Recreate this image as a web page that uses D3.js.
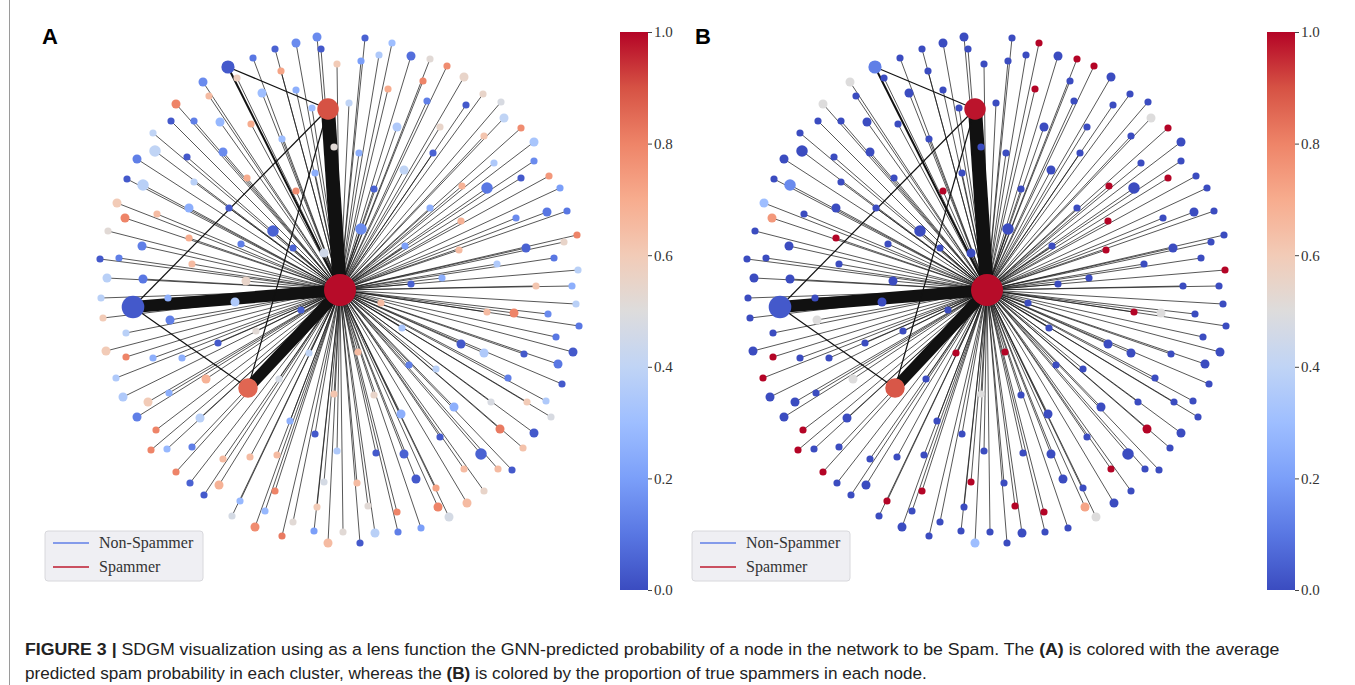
<!DOCTYPE html>
<html>
<head>
<meta charset="utf-8">
<script src="https://cdn.jsdelivr.net/npm/d3@7/dist/d3.min.js"></script>
<style>
  html, body { margin:0; padding:0; background:#fff; }
  svg { display:block; }
</style>
</head>
<body>
<svg id="fig" width="1355" height="685"></svg>
<script>
// ---- data ----
// leaf clusters: layout position relative to the central cluster (layout units),
// cluster size, mean predicted spam prob (A) and share of true spammers (B)
const leafX = [
  -23,-19,-44,-65,-87,-3,-59,-103,-137,-44,-78,-131,-164,-28,-169,-146,-120,-89,-187,-185,
  -6,-58,-203,-153,-117,-25,-213,-197,-146,-93,-44,-223,-183,-151,-111,-215,-67,-232,-151,-198,
  -99,-47,-16,-240,-221,-148,-233,-197,-94,
  25,52,21,39,71,90,107,83,48,124,143,87,9,126,161,164,100,57,181,144,
  194,93,19,194,154,64,209,181,122,147,34,220,90,207,227,176,121,21,237,224,
  186,65,119,214,157,238,102,71,196,232,
  -239,-172,-105,-39,-237,-170,-214,-84,-234,-122,-214,-187,-158,-31,-224,-134,-61,-217,-171,-192,
  -6,-203,-140,-50,-184,-25,-189,-173,-148,-3,-117,-90,-63,-164,-150,-121,-16,-136,-65,-100,
  -23,-108,-75,-47,-85,-26,-58,-12,3,
  236,41,147,174,208,239,62,216,121,144,184,233,18,69,218,96,168,222,34,151,
  187,206,114,211,61,160,194,100,36,64,141,183,124,158,172,76,96,144,17,98,
  127,28,57,109,35,58,81,20
];
const leafY = [
  -253,-241,-247,-241,-232,-226,-219,-212,-208,-200,-197,-194,-186,-182,-169,-169,-168,-166,-157,-139,
  -143,-151,-131,-133,-138,-117,-111,-105,-108,-112,-99,-87,-76,-82,-82,-72,-59,-59,-52,-44,
  -46,-42,-37,-31,-32,-26,-12,-11,-9,
  -252,-247,-229,-235,-234,-231,-224,-209,-201,-213,-196,-189,-187,-185,-188,-172,-163,-163,-162,-154,
  -148,-137,-137,-129,-127,-120,-114,-112,-104,-102,-101,-102,-82,-78,-79,-72,-69,-61,-55,-48,
  -42,-44,-40,-32,-26,-20,-12,-6,-4,-4,
  8,8,12,20,28,30,43,41,61,53,67,68,68,63,88,89,89,107,103,112,
  104,127,128,131,140,144,160,159,157,161,169,167,165,182,193,195,192,205,201,211,
  217,226,221,232,237,241,246,253,242,
  14,13,22,23,24,36,38,47,54,63,64,62,62,75,74,79,88,94,105,112,
  112,111,117,127,124,139,143,147,163,164,164,158,179,179,180,189,198,201,193,217,
  213,216,222,227,243,242,238,253
];
const leafSize = [
  8,5,8,5,5,5,5,5,8,5,8,5,8,5,5,5,8,5,5,13,
  5,5,8,5,8,5,5,13,5,5,5,8,5,8,5,8,13,5,5,8,
  5,5,8,5,5,5,8,8,8,
  5,5,5,5,8,5,5,5,5,8,5,5,5,5,5,8,5,8,5,5,
  8,5,5,5,5,8,5,5,5,13,5,5,5,8,5,5,5,13,5,5,
  8,5,5,5,5,5,5,5,5,5,
  5,5,8,5,5,8,5,5,8,5,5,5,5,5,5,8,5,8,5,8,
  5,8,8,5,5,5,5,5,5,5,5,5,5,5,5,8,5,5,5,5,
  5,5,5,5,8,5,5,8,5,
  5,5,5,8,5,5,5,5,8,8,5,8,5,5,8,5,5,5,5,5,
  5,5,8,5,8,8,8,5,5,8,13,5,5,5,5,8,5,5,5,8,
  8,5,5,8,8,5,5,5
];
const spamProbA = [
  0.15,0.03,0.15,0.05,0.10,0.60,0.72,0.58,0.15,0.25,0.30,0.65,0.80,0.30,0.03,0.12,0.28,0.70,0.40,0.40,
  0.52,0.30,0.12,0.03,0.15,0.25,0.03,0.38,0.38,0.70,0.78,0.60,0.65,0.25,0.03,0.80,0.05,0.52,0.70,0.12,
  0.12,0.05,0.45,0.03,0.12,0.65,0.38,0.10,0.55,
  0.05,0.30,0.20,0.35,0.08,0.52,0.78,0.80,0.70,0.55,0.55,0.12,0.40,0.03,0.48,0.40,0.55,0.35,0.78,0.62,
  0.33,0.05,0.25,0.15,0.35,0.40,0.75,0.03,0.68,0.10,0.05,0.20,0.25,0.10,0.10,0.15,0.68,0.15,0.80,0.55,
  0.05,0.20,0.65,0.10,0.35,0.38,0.25,0.05,0.62,0.25,
  0.38,0.25,0.35,0.05,0.60,0.12,0.38,0.52,0.60,0.03,0.80,0.25,0.25,0.40,0.35,0.68,0.47,0.35,0.25,0.60,
  0.62,0.12,0.38,0.25,0.80,0.03,0.80,0.28,0.12,0.35,0.65,0.65,0.65,0.80,0.05,0.68,0.47,0.03,0.80,0.28,
  0.60,0.47,0.28,0.52,0.78,0.20,0.82,0.65,0.52,
  0.38,0.65,0.65,0.80,0.15,0.10,0.33,0.10,0.03,0.35,0.03,0.03,0.65,0.12,0.10,0.38,0.12,0.03,0.55,0.48,
  0.60,0.35,0.25,0.48,0.25,0.82,0.03,0.03,0.03,0.05,0.05,0.63,0.65,0.65,0.03,0.03,0.72,0.55,0.65,0.80,
  0.65,0.52,0.80,0.47,0.38,0.12,0.20,0.03
];
const spamShareB = [
  0,0,0,0,0,0,0,0,0.5,0,0,0,0.5,0,0,0,0,0,0,0,
  0,0,0,0,0,0,0,0.15,0,0,1,0.3,0,0,0,0.75,0,0,1,0,
  0,0,0,0,0,0,0,0,0,
  0,1,0,0,0,1,1,0,1,0,0,0,0,0,0,0.5,0,0,1,0,
  0,0,0,0,0,0,0,1,1,0,0,0,0,0,0,0,1,0,0,0,
  0,0,1,0,0,1,0,0,0,0,
  0,0,0,0,0,0.5,0,0,0,0,1,0,0,1,1,0.5,0,0,0,0,
  0.5,0,0,0,1,0,1,0,0,0,0,0,0,1,0,0,1,0,1,1,
  0,0,0,0,0,0,0,0.3,0,
  0,0,1,0.5,0,0,0,0,0,0,0,0,1,0,0,0,0,0,0,0,
  0,0,0,0,0,1,0,0,0,0,0,0,1,0,0,0,0,0,0,0.72,
  0,1,1,0.5,0,0,0,0
];

// the large clusters (hubs) and the edges between them
const hubNames  = ["center", "red", "blue", "salmon", "top"];
const hubX      = [0, -12, -207, -92, -112];
const hubY      = [0, -181, 17, 98, -223];
const hubSize   = [100, 45, 50, 37, 17];
const hubProbA  = [0.99, 0.90, 0.03, 0.86, 0.03];
const hubShareB = [0.99, 0.98, 0.03, 0.89, 0.12];
const hubEdgeFrom   = ["center", "center", "center", "center", "red", "red", "red", "blue"];
const hubEdgeTo     = ["red", "blue", "salmon", "top", "top", "blue", "salmon", "salmon"];
const hubEdgeWeight = [14, 12, 11, 2, 1.2, 1.2, 1.2, 1.2];

const colorbarTicks = [0, 0.2, 0.4, 0.6, 0.8, 1.0];
const legendLabels = ["Non-Spammer", "Spammer"];
const panelLabels = ["A", "B"];

// matplotlib "coolwarm"
const coolwarmStops = ["#3b4cc0","#5977e3","#7b9ff9","#9ebeff","#c0d4f5","#dddcdc",
                       "#f2cbb7","#f7ac8e","#ee8468","#d65244","#b40426"];

// ---- drawing ----
const svg = d3.select("#fig");
const color = d3.scaleLinear()
  .domain(d3.range(coolwarmStops.length).map(i => i / (coolwarmStops.length - 1)))
  .range(coolwarmStops)
  .interpolate(d3.interpolateRgb);
const radius = d3.scaleSqrt().domain([0, 100]).range([0, 16]);
const edgeWidth = d3.scaleLinear().domain([0, 14]).range([0, 14]);

// page edge on the left
svg.append("line")
  .attr("x1", 9.5).attr("x2", 9.5)
  .attr("y1", 0).attr("y2", 685)
  .attr("stroke", "#9a9a9a")
  .attr("stroke-width", 1);

// gradient for the colour bars
const defs = svg.append("defs");
const grad = defs.append("linearGradient")
  .attr("id", "cw").attr("x1", 0).attr("y1", 1).attr("x2", 0).attr("y2", 0);
d3.range(0, 1.0001, 0.05).forEach(t => {
  grad.append("stop").attr("offset", t).attr("stop-color", color(t));
});

const panels = [
  { cx: 340, cy: 290, leafVals: spamProbA, hubVals: hubProbA, barX: 620, label: panelLabels[0], labelX: 42, legX: 45 },
  { cx: 987, cy: 290, leafVals: spamShareB, hubVals: hubShareB, barX: 1267, label: panelLabels[1], labelX: 695, legX: 692 }
];

panels.forEach(p => {
  const g = svg.append("g");
  const x = d3.scaleLinear().domain([-260, 260]).range([p.cx - 260, p.cx + 260]);
  const y = d3.scaleLinear().domain([-260, 260]).range([p.cy - 260, p.cy + 260]);

  const hubIdx = name => hubNames.indexOf(name);

  // thin edges centre -> each leaf cluster
  g.append("g").selectAll("line")
    .data(d3.range(leafX.length))
    .join("line")
    .attr("x1", x(0)).attr("y1", y(0))
    .attr("x2", i => x(leafX[i])).attr("y2", i => y(leafY[i]))
    .attr("stroke", "#1a1a1a")
    .attr("stroke-opacity", 0.82)
    .attr("stroke-width", 0.9);

  // edges between the large clusters
  g.append("g").selectAll("line")
    .data(d3.range(hubEdgeFrom.length))
    .join("line")
    .attr("x1", i => x(hubX[hubIdx(hubEdgeFrom[i])]))
    .attr("y1", i => y(hubY[hubIdx(hubEdgeFrom[i])]))
    .attr("x2", i => x(hubX[hubIdx(hubEdgeTo[i])]))
    .attr("y2", i => y(hubY[hubIdx(hubEdgeTo[i])]))
    .attr("stroke", "#111")
    .attr("stroke-width", i => edgeWidth(hubEdgeWeight[i]));

  // leaf nodes
  g.append("g").selectAll("circle")
    .data(d3.range(leafX.length))
    .join("circle")
    .attr("cx", i => x(leafX[i]))
    .attr("cy", i => y(leafY[i]))
    .attr("r", i => radius(leafSize[i]))
    .attr("fill", i => color(p.leafVals[i]));

  // hub nodes
  g.append("g").selectAll("circle")
    .data(d3.range(hubNames.length))
    .join("circle")
    .attr("cx", i => x(hubX[i]))
    .attr("cy", i => y(hubY[i]))
    .attr("r", i => radius(hubSize[i]))
    .attr("fill", i => color(p.hubVals[i]));

  // panel letter
  svg.append("text")
    .attr("x", p.labelX).attr("y", 44)
    .attr("font-family", "Liberation Sans, Arial, sans-serif")
    .attr("font-weight", "bold")
    .attr("font-size", 22)
    .text(p.label);

  // colour bar
  const cb = d3.scaleLinear().domain([0, 1]).range([590, 32]);
  svg.append("rect")
    .attr("x", p.barX).attr("y", cb(1))
    .attr("width", 28).attr("height", cb(0) - cb(1))
    .attr("fill", "url(#cw)");
  const ax = svg.append("g")
    .attr("transform", `translate(${p.barX + 28},0)`)
    .call(d3.axisRight(cb).tickValues(colorbarTicks).tickFormat(d3.format(".1f")).tickSize(4).tickPadding(2));
  ax.select(".domain").remove();
  ax.selectAll("line").attr("stroke", "#444");
  ax.selectAll("text")
    .attr("font-family", "Liberation Serif, Times New Roman, serif")
    .attr("font-size", 15)
    .attr("fill", "#333");

  // legend
  const lg = svg.append("g").attr("transform", `translate(${p.legX},531)`);
  lg.append("rect")
    .attr("width", 158).attr("height", 50).attr("rx", 3)
    .attr("fill", "#efeff3").attr("stroke", "#d8d8dc");
  const legColors = [color(0.12), color(0.97)];
  legendLabels.forEach((lab, i) => {
    lg.append("line")
      .attr("x1", 8).attr("x2", 44)
      .attr("y1", 12 + i * 24).attr("y2", 12 + i * 24)
      .attr("stroke", legColors[i]).attr("stroke-width", 1.5);
    lg.append("text")
      .attr("x", 54).attr("y", 17 + i * 24)
      .attr("font-family", "Liberation Serif, Times New Roman, serif")
      .attr("font-size", 16)
      .attr("fill", "#333")
      .text(lab);
  });
});

// caption
const capLines = [
  { y: 655, width: 1255, parts: [
    ["FIGURE 3 | ", true],
    ["SDGM visualization using as a lens function the GNN-predicted probability of a node in the network to be Spam. The ", false],
    ["(A)", true],
    [" is colored with the average", false] ] },
  { y: 679, width: 903, parts: [
    ["predicted spam probability in each cluster, whereas the ", false],
    ["(B)", true],
    [" is colored by the proportion of true spammers in each node.", false] ] }
];
capLines.forEach(line => {
  const t = svg.append("text")
    .attr("x", 0).attr("y", 0)
    .attr("font-family", "Liberation Sans Narrow, Liberation Sans, Arial, sans-serif")
    .attr("font-size", 17)
    .attr("fill", "#222");
  line.parts.forEach(([s, b]) => {
    t.append("tspan").attr("font-weight", b ? "bold" : "normal").text(s);
  });
  const w = t.node().getComputedTextLength();
  t.attr("transform", `translate(25,${line.y}) scale(${line.width / w},1)`);
});
</script>
</body>
</html>
